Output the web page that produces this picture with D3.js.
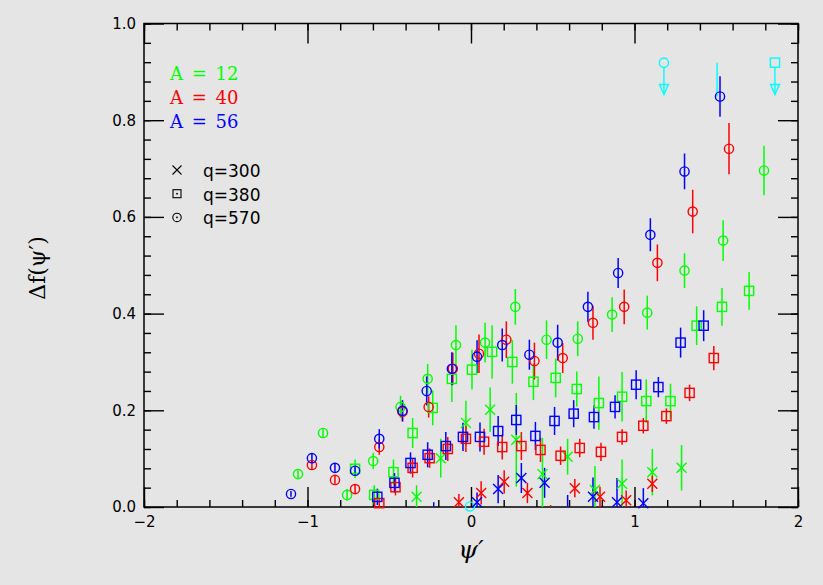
<!DOCTYPE html>
<html><head><meta charset="utf-8">
<script src="https://cdn.jsdelivr.net/npm/d3@7/dist/d3.min.js"></script>
<style>
html,body{margin:0;padding:0;background:#e5e5e5;}
svg{display:block}
</style></head><body>
<svg id="chart" width="823" height="585"></svg>
<script>
// ---------------- data ----------------
const xMajorTicks = [-2, -1, 0, 1, 2];
const yMajorTicks = [0, 0.2, 0.4, 0.6, 0.8, 1.0];
const xMinorTicks = d3.range(-2, 2.0001, 0.2);
const yMinorTicks = d3.range(0, 1.0001, 0.04);

const legendA = ["A = 12", "A = 40", "A = 56"];
const legendQ = ["q=300", "q=380", "q=570"];

// [psi', delta f, error]
const A12_q570 = [
  [-1.058,0.068,0.008],[-0.905,0.153,0.010],[-0.758,0.025,0.012],[-0.598,0.095,0.017],
  [-0.431,0.207,0.023],[-0.265,0.265,0.031],[-0.092,0.335,0.041],[0.086,0.340,0.041],
  [0.271,0.414,0.037],[0.462,0.346,0.040],[0.653,0.348,0.036],[0.863,0.398,0.036],
  [1.078,0.402,0.035],[1.306,0.489,0.036],[1.542,0.551,0.042],[1.792,0.696,0.051]
];
const A40_q570 = [
  [-0.973,0.087,0.010],[-0.832,0.056,0.008],[-0.709,0.037,0.010],[-0.561,0.124,0.016],
  [-0.419,0.197,0.020],[-0.259,0.207,0.022],[-0.111,0.286,0.033],[0.049,0.317,0.040],
  [0.216,0.346,0.038],[0.388,0.302,0.038],[0.561,0.308,0.031],[0.746,0.381,0.035],
  [0.937,0.414,0.036],[1.140,0.505,0.038],[1.356,0.611,0.045],[1.578,0.741,0.053]
];
const A56_q570 = [
  [-1.101,0.027,0.006],[-0.973,0.101,0.010],[-0.832,0.081,0.008],[-0.709,0.075,0.008],
  [-0.561,0.141,0.020],[-0.419,0.199,0.022],[-0.271,0.240,0.030],[-0.117,0.286,0.034],
  [0.037,0.311,0.034],[0.191,0.335,0.034],[0.357,0.315,0.031],[0.530,0.340,0.037],
  [0.715,0.414,0.031],[0.900,0.484,0.031],[1.097,0.563,0.034],[1.306,0.694,0.037],
  [1.523,0.849,0.042]
];
const A12_q380 = [
  [-0.709,0.079,0.019],[-0.592,0.025,0.020],[-0.474,0.072,0.026],[-0.357,0.153,0.031],
  [-0.234,0.205,0.036],[-0.117,0.265,0.048],[0.006,0.284,0.041],[0.129,0.321,0.055],
  [0.253,0.300,0.045],[0.382,0.259,0.038],[0.518,0.267,0.040],[0.647,0.244,0.036],
  [0.782,0.215,0.055],[0.924,0.228,0.051],[1.072,0.219,0.045],[1.220,0.219,0.036],
  [1.380,0.375,0.040],[1.535,0.414,0.039],[1.701,0.447,0.039]
];
const A40_q380 = [
  [-0.561,0.008,0.010],[-0.462,0.041,0.017],[-0.357,0.081,0.020],[-0.253,0.101,0.020],
  [-0.142,0.120,0.025],[-0.031,0.141,0.027],[0.080,0.135,0.027],[0.191,0.124,0.026],
  [0.308,0.126,0.029],[0.425,0.118,0.025],[0.548,0.106,0.019],[0.665,0.122,0.019],
  [0.795,0.114,0.019],[0.924,0.145,0.016],[1.054,0.168,0.016],[1.195,0.188,0.016],
  [1.337,0.236,0.017],[1.485,0.308,0.025]
];
const A56_q380 = [
  [-0.573,0.021,0.017],[-0.468,0.050,0.020],[-0.370,0.091,0.022],[-0.265,0.108,0.026],
  [-0.154,0.126,0.029],[-0.049,0.145,0.029],[0.055,0.145,0.030],[0.166,0.157,0.031],
  [0.277,0.180,0.031],[0.394,0.147,0.029],[0.511,0.178,0.029],[0.628,0.193,0.028],
  [0.752,0.186,0.024],[0.881,0.207,0.024],[1.010,0.253,0.030],[1.146,0.248,0.021],
  [1.282,0.340,0.031],[1.423,0.375,0.032]
];
const A12_q300 = [
  [-0.333,0.021,0.024],[-0.185,0.101,0.040],[-0.031,0.174,0.046],[0.117,0.201,0.046],
  [0.277,0.139,0.097],[0.437,0.068,0.075],[0.591,0.104,0.037],[0.758,0.035,0.050],
  [0.924,0.048,0.050],[1.109,0.072,0.048],[1.288,0.081,0.047]
];
const A40_q300 = [
  [-0.074,0.010,0.017],[0.062,0.029,0.024],[0.203,0.052,0.024],[0.345,0.029,0.021],
  [0.487,-0.008,0.012],[0.635,0.039,0.019],[0.789,0.021,0.021],[0.949,0.014,0.020],
  [1.109,0.048,0.017]
];
const A56_q300 = [
  [-0.228,-0.012,0.022],[0.037,0.010,0.020],[0.166,0.037,0.029],[0.308,0.060,0.031],
  [0.450,0.050,0.031],[0.591,-0.015,0.040],[0.746,0.021,0.040],[0.893,0.010,0.050],
  [1.054,0.008,0.031]
];
// extra (cyan) points
const cyanPoints = [[-0.006,0.001,0]];
const cyanBarOnly = [[1.505,0.884,0.035]];
// upper limits [psi', value, arrow length]
const cyanLimitCircle = [[1.180,0.919,0.066]];
const cyanLimitSquare = [[1.859,0.919,0.066]];

// ---------------- drawing ----------------
const GREEN = "#00ff00", RED = "#ff0000", BLUE = "#0000ff", CYAN = "#00ffff";
const svg = d3.select("#chart");
svg.append("rect").attr("width", 823).attr("height", 585).attr("fill", "#e5e5e5");

const x = d3.scaleLinear().domain([-2, 2]).range([144, 798]);
const y = d3.scaleLinear().domain([0, 1]).range([507, 23.5]);

svg.append("clipPath").attr("id", "plotclip").append("rect")
  .attr("x", 144).attr("y", 23.5).attr("width", 654).attr("height", 483.5);

const tickFont = "'DejaVu Sans', sans-serif";
function styleAxis(g) {
  g.select(".domain").remove();
  g.selectAll(".tick line").attr("stroke", "#000").attr("stroke-width", 1.4);
  g.selectAll("text").attr("font-family", tickFont).attr("font-size", 15).attr("fill", "#000");
}
const fmtX = d => d < 0 ? "\u2212" + Math.abs(d) : String(d);

svg.append("g").attr("transform", "translate(0,507)")
  .call(d3.axisBottom(x).tickValues(xMajorTicks).tickSizeInner(-20).tickSizeOuter(0).tickPadding(9).tickFormat(fmtX))
  .call(styleAxis);
svg.append("g").attr("transform", "translate(0,507)")
  .call(d3.axisBottom(x).tickValues(xMinorTicks).tickSizeInner(-7).tickSizeOuter(0).tickFormat(""))
  .call(styleAxis);
svg.append("g").attr("transform", "translate(0,23.5)")
  .call(d3.axisTop(x).tickValues(xMajorTicks).tickSizeInner(-20).tickSizeOuter(0).tickFormat(""))
  .call(styleAxis);
svg.append("g").attr("transform", "translate(0,23.5)")
  .call(d3.axisTop(x).tickValues(xMinorTicks).tickSizeInner(-7).tickSizeOuter(0).tickFormat(""))
  .call(styleAxis);
svg.append("g").attr("transform", "translate(144,0)")
  .call(d3.axisLeft(y).tickValues(yMajorTicks).tickSizeInner(-20).tickSizeOuter(0).tickPadding(8).tickFormat(d3.format(".1f")))
  .call(styleAxis);
svg.append("g").attr("transform", "translate(144,0)")
  .call(d3.axisLeft(y).tickValues(yMinorTicks).tickSizeInner(-7).tickSizeOuter(0).tickFormat(""))
  .call(styleAxis);
svg.append("g").attr("transform", "translate(798,0)")
  .call(d3.axisRight(y).tickValues(yMajorTicks).tickSizeInner(-20).tickSizeOuter(0).tickFormat(""))
  .call(styleAxis);
svg.append("g").attr("transform", "translate(798,0)")
  .call(d3.axisRight(y).tickValues(yMinorTicks).tickSizeInner(-7).tickSizeOuter(0).tickFormat(""))
  .call(styleAxis);

svg.append("rect").attr("x", 144).attr("y", 23.5).attr("width", 654).attr("height", 483.5)
  .attr("fill", "none").attr("stroke", "#000").attr("stroke-width", 1.5);

// axis titles
svg.append("text").attr("x", x(0)).attr("y", 558).attr("text-anchor", "middle")
  .attr("font-family", "'DejaVu Serif', serif").attr("font-style", "italic").attr("font-size", 25)
  .text("\u03C8\u2032");
svg.append("text").attr("transform", "translate(45,268) rotate(-90)").attr("text-anchor", "middle")
  .attr("font-family", "'DejaVu Serif', serif").attr("font-size", 22)
  .text("\u0394f(\u03C8\u2032)");

// markers
const plot = svg.append("g");
const bars = plot.append("g").attr("clip-path", "url(#plotclip)");
const marks = plot.append("g");

function marker(g, type, cx, cy, color) {
  if (type === "circle") {
    g.append("circle").attr("cx", cx).attr("cy", cy).attr("r", 4.6)
      .attr("fill", "none").attr("stroke", color).attr("stroke-width", 1.4);
  } else if (type === "square") {
    g.append("rect").attr("x", cx - 4.6).attr("y", cy - 4.6).attr("width", 9.2).attr("height", 9.2)
      .attr("fill", "none").attr("stroke", color).attr("stroke-width", 1.4);
  } else if (type === "cross") {
    g.append("path").attr("d", `M${cx-5},${cy-5}L${cx+5},${cy+5}M${cx-5},${cy+5}L${cx+5},${cy-5}`)
      .attr("fill", "none").attr("stroke", color).attr("stroke-width", 1.4);
  }
}

function drawSeries(data, type, color) {
  data.forEach(([px, py, e]) => {
    if (e > 0) {
      bars.append("line").attr("x1", x(px)).attr("x2", x(px))
        .attr("y1", y(py - e)).attr("y2", y(py + e))
        .attr("stroke", color).attr("stroke-width", 1.5);
    }
    if (type !== "none" && py >= 0) marker(marks, type, x(px), y(py), color);
  });
}
function drawLimit(data, type, color) {
  data.forEach(([px, py, len]) => {
    const cx = x(px), cy = y(py), tip = y(py - len);
    marker(marks, type, cx, cy, color);
    marks.append("line").attr("x1", cx).attr("x2", cx).attr("y1", cy + 4.6).attr("y2", tip)
      .attr("stroke", color).attr("stroke-width", 1.4);
    marks.append("path").attr("d", `M${cx-4.5},${tip-10}L${cx+4.5},${tip-10}L${cx},${tip}Z`)
      .attr("fill", "none").attr("stroke", color).attr("stroke-width", 1.4);
  });
}

drawSeries(cyanBarOnly, "none", CYAN);
drawSeries(cyanPoints, "circle", CYAN);
drawLimit(cyanLimitCircle, "circle", CYAN);
drawLimit(cyanLimitSquare, "square", CYAN);

drawSeries(A12_q300, "cross", GREEN);
drawSeries(A12_q380, "square", GREEN);
drawSeries(A12_q570, "circle", GREEN);
drawSeries(A40_q300, "cross", RED);
drawSeries(A40_q380, "square", RED);
drawSeries(A40_q570, "circle", RED);
drawSeries(A56_q300, "cross", BLUE);
drawSeries(A56_q380, "square", BLUE);
drawSeries(A56_q570, "circle", BLUE);

// legend
const legColors = [GREEN, RED, BLUE];
const leg = svg.append("g");
legendA.forEach((t, i) => {
  leg.append("text").attr("x", 170).attr("y", 80 + i * 24).attr("xml:space", "preserve")
    .attr("font-family", "'DejaVu Serif', serif").attr("font-size", 18).attr("fill", legColors[i])
    .attr("word-spacing", 3)
    .text(t);
});
const legTypes = ["cross", "square", "circle"];
legendQ.forEach((t, i) => {
  const cy = 170 + i * 23.7;
  const cx = 177;
  if (legTypes[i] === "cross") {
    leg.append("path").attr("d", `M${cx-4.5},${cy-4.5}L${cx+4.5},${cy+4.5}M${cx-4.5},${cy+4.5}L${cx+4.5},${cy-4.5}`)
      .attr("stroke", "#000").attr("stroke-width", 1.1).attr("fill", "none");
  } else if (legTypes[i] === "square") {
    leg.append("rect").attr("x", cx - 4).attr("y", cy - 4).attr("width", 8).attr("height", 8)
      .attr("fill", "none").attr("stroke", "#000").attr("stroke-width", 1.1);
    leg.append("rect").attr("x", cx - 0.8).attr("y", cy - 0.8).attr("width", 1.6).attr("height", 1.6).attr("fill", "#000");
  } else {
    leg.append("circle").attr("cx", cx).attr("cy", cy).attr("r", 4.2)
      .attr("fill", "none").attr("stroke", "#000").attr("stroke-width", 1.1);
    leg.append("rect").attr("x", cx - 0.8).attr("y", cy - 0.8).attr("width", 1.6).attr("height", 1.6).attr("fill", "#000");
  }
  leg.append("text").attr("x", 203).attr("y", cy + 7).attr("font-family", tickFont)
    .attr("font-size", 17).attr("fill", "#000").text(t);
});
</script>
</body></html>
